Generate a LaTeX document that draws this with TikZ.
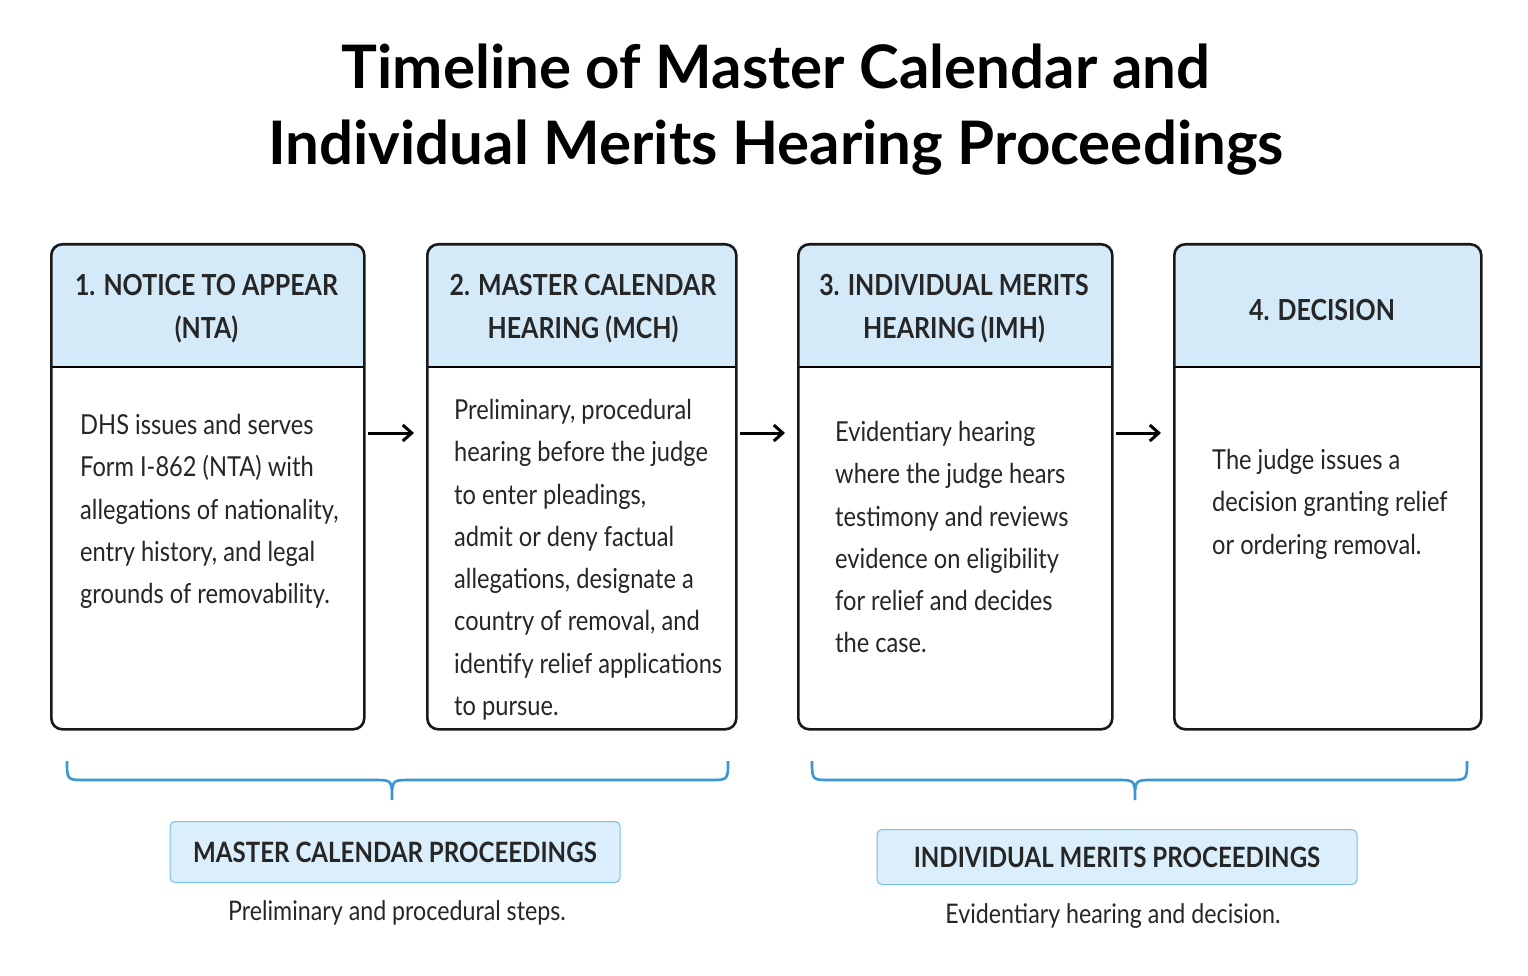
\documentclass[tikz,border=0pt]{standalone}
\usepackage{fontspec}
\setmainfont{Lato}[FakeStretch=0.86]
\newfontfamily\titlefont{Lato}[FakeStretch=1.0]
\usetikzlibrary{arrows.meta}
\definecolor{hdr}{RGB}{212,234,249}
\definecolor{brc}{RGB}{58,150,212}
\definecolor{lbl}{RGB}{218,238,251}
\definecolor{lblb}{RGB}{120,190,230}
\begin{document}
\begin{tikzpicture}[x=1pt,y=-1pt,
 box/.style={draw=black!90,line width=2.6pt,rounded corners=11pt},
 head/.style={font=\fontsize{29}{43}\selectfont\bfseries,align=center,text=black!85},
 body/.style={font=\fontsize{27.5}{42.3}\selectfont,align=left,anchor=north west,inner sep=0pt,text=black!85},
 arr/.style={-{Straight Barb[length=9pt,width=16pt]},line width=3pt,shorten >=12pt,shorten <=2pt},
 brace/.style={draw=brc,line width=2.6pt},
 lab/.style={draw=lblb,fill=lbl,line width=1pt,rounded corners=5pt,font=\fontsize{28}{34}\selectfont\bfseries,text=black!85},
 sub/.style={font=\fontsize{27}{32}\selectfont,text=black!85}]
\useasboundingbox (0,0) rectangle (1528,976);
\fill[white] (0,0) rectangle (1528,976);
\node[font=\titlefont\fontsize{60}{76}\selectfont\bfseries,align=center] (title) at (776,110) {Timeline of Master Calendar and\\Individual Merits Hearing Proceedings};
% boxes
\foreach \n/\a/\b in {1/50/363,2/426/735,3/797/1111,4/1173/1480}{
 \begin{scope}
 \clip[rounded corners=11pt] (\a,243) rectangle (\b,728);
 \fill[hdr] (\a,243) rectangle (\b,367);
 \end{scope}
 \draw[line width=2.6pt] (\a,367) -- (\b,367);
 \node[box,minimum width=\b pt-\a pt,minimum height=485pt,anchor=north west] (b\n) at (\a,243) {};
}
\node[head] (h1) at (206.5,309) {1. NOTICE TO APPEAR\\(NTA)};
\node[head] (h2) at (583,309) {2. MASTER CALENDAR\\HEARING (MCH)};
\node[head] (h3) at (954,309) {3. INDIVIDUAL MERITS\\HEARING (IMH)};
\node[head] (h4) at (1322,310) {4. DECISION};
\node[body] (t1) at (80,414) {DHS issues and serves\\Form I-862 (NTA) with\\allegations of nationality,\\entry history, and legal\\grounds of removability.};
\node[body] (t2) at (454,399) {Preliminary, procedural\\hearing before the judge\\to enter pleadings,\\admit or deny factual\\allegations, designate a\\country of removal, and\\identify relief applications\\to pursue.};
\node[body] (t3) at (835,421) {Evidentiary hearing\\where the judge hears\\testimony and reviews\\evidence on eligibility\\for relief and decides\\the case.};
\node[body] (t4) at (1212,449) {The judge issues a\\decision granting relief\\or ordering removal.};
\draw[arr] (b1.east|-0,433) -- (b2.west|-0,433);
\draw[arr] (b2.east|-0,433) -- (b3.west|-0,433);
\draw[arr] (b3.east|-0,433) -- (b4.west|-0,433);
% braces
\draw[brace] (67,761) .. controls (67,780) .. (85,780) -- (374,780) .. controls (392,780) .. (392,800) .. controls (392,780) .. (410,780) -- (710,780) .. controls (728,780) .. (728,761);
\draw[brace] (812,761) .. controls (812,780) .. (830,780) -- (1117,780) .. controls (1135,780) .. (1135,800) .. controls (1135,780) .. (1153,780) -- (1449,780) .. controls (1467,780) .. (1467,761);
\node[lab,minimum width=450pt,minimum height=61pt] (l1) at (395,852) {MASTER CALENDAR PROCEEDINGS};
\node[lab,minimum width=480pt,minimum height=55pt] (l2) at (1117,857) {INDIVIDUAL MERITS PROCEEDINGS};
\node[sub] (s1) at (397,913) {Preliminary and procedural steps.};
\node[sub] (s2) at (1113,916) {Evidentiary hearing and decision.};
\end{tikzpicture}
\end{document}
